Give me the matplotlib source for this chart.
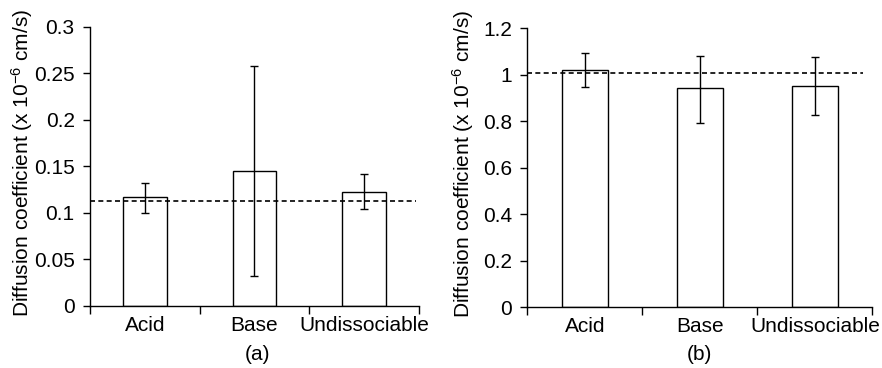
import numpy as np
import matplotlib.pyplot as plt

plt.rcParams['font.family'] = ['Liberation Sans', 'DejaVu Sans']
plt.rcParams['mathtext.fontset'] = 'custom'
plt.rcParams['mathtext.rm'] = 'Liberation Sans'
plt.rcParams['mathtext.it'] = 'Liberation Sans'

categories = ["Acid", "Base", "Undissociable"]

# panel (a)
means_a = [0.1166, 0.1445, 0.1226]
err_hi_a = [0.132, 0.2574, 0.1413]
err_lo_a = [0.0994, 0.032, 0.1037]
ref_a = 0.1126

# panel (b)
means_b = [1.0206, 0.942, 0.953]
err_hi_b = [1.0925, 1.082, 1.078]
err_lo_b = [0.9475, 0.794, 0.828]
ref_b = 1.009

ylabel = r"Diffusion coefficient (x 10$^{-6}$ cm/s)"
FS = 15


def draw_panel(ax, means, hi, lo, ref, ymax, step, dash_end, lab_x, lab_y):
    x = np.arange(len(categories))
    means = np.array(means)
    yerr = [means - np.array(lo), np.array(hi) - means]
    ax.bar(x, means, width=0.4, color="white", edgecolor="black", linewidth=1.0, zorder=2)
    ax.errorbar(x, means, yerr=yerr, fmt="none", ecolor="black", elinewidth=1.0,
                capsize=3, capthick=1.0, zorder=3)
    ax.axhline(ref, xmin=0, xmax=dash_end, color="black", linestyle=(0, (3, 2)),
               linewidth=1.2, zorder=4)

    ax.set_xlim(-0.5, len(categories) - 0.5)
    ax.set_ylim(0, ymax)
    ax.set_xticks(np.arange(-0.5, len(categories), 1.0))
    ax.set_xticklabels([])
    ax.set_xticks(x, minor=True)
    ax.set_xticklabels(categories, minor=True, fontsize=FS)
    ax.tick_params(axis="x", which="minor", length=0, pad=7)
    ax.tick_params(axis="x", which="major", length=6, width=1.0, direction="out")
    yt = np.round(np.arange(0, ymax + step / 2, step), 3)
    ax.set_yticks(yt)
    ax.set_yticklabels(["%g" % v for v in yt], fontsize=FS)
    ax.tick_params(axis="y", length=5, width=1.0, direction="out", pad=6)

    for s in ["top", "right"]:
        ax.spines[s].set_visible(False)
    for s in ["left", "bottom"]:
        ax.spines[s].set_linewidth(1.0)

    ax.set_ylabel(ylabel, fontsize=FS, va="center")
    ax.yaxis.set_label_coords(lab_x, lab_y)


fig = plt.figure(figsize=(8.82, 3.68), dpi=100)
ax1 = fig.add_axes([0.102, 0.169, 0.373, 0.758])
ax2 = fig.add_axes([0.598, 0.165, 0.391, 0.758])

draw_panel(ax1, means_a, err_hi_a, err_lo_a, ref_a, 0.3, 0.05, 0.99, -0.207, 0.511)
draw_panel(ax2, means_b, err_hi_b, err_lo_b, ref_b, 1.2, 0.2, 0.973, -0.188, 0.514)

fig.text(257 / 882, 1 - 355 / 368, "(a)", ha="center", va="center", fontsize=FS)
fig.text(699 / 882, 1 - 355 / 368, "(b)", ha="center", va="center", fontsize=FS)

fig.savefig("out.png", dpi=100)
